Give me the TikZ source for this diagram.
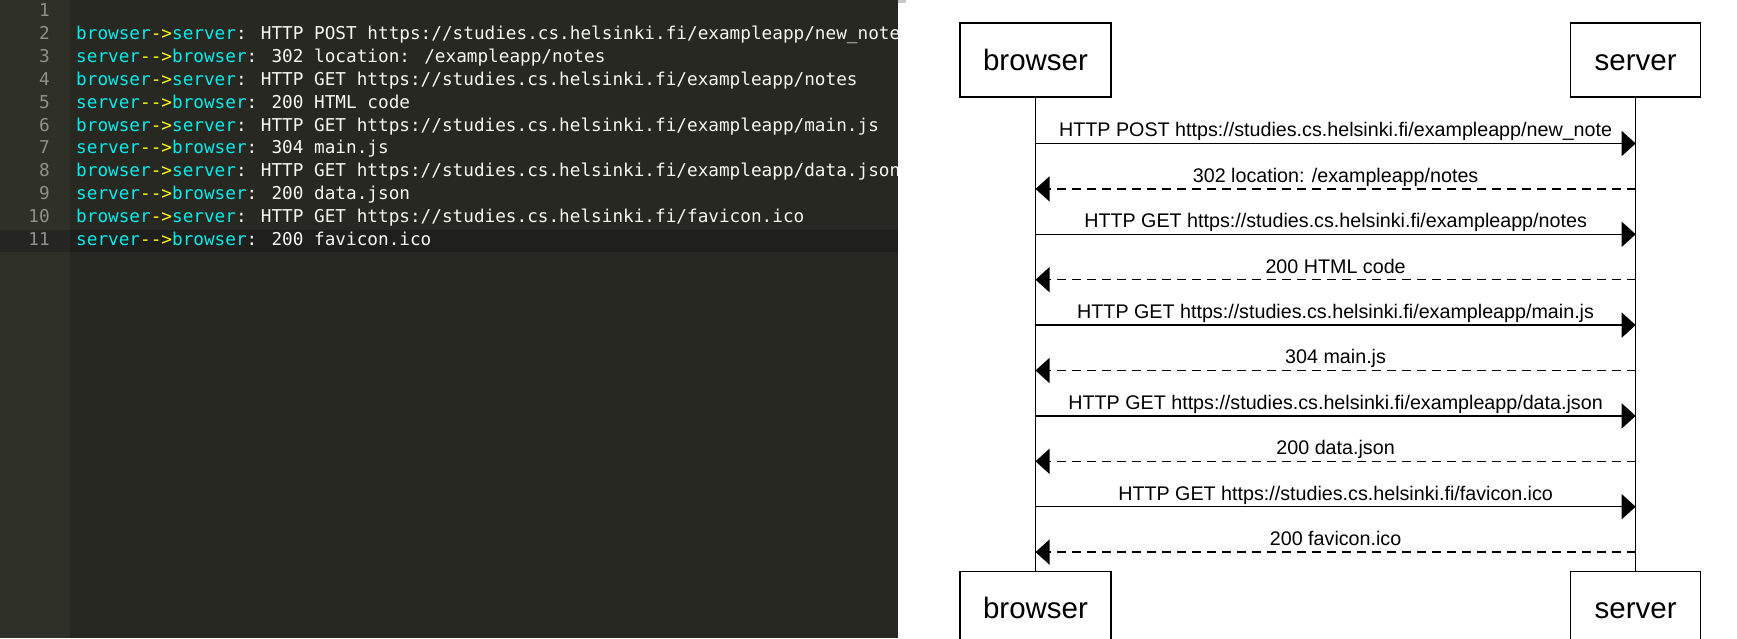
\documentclass[tikz,border=0pt]{standalone}
\usepackage{fontspec}
\usetikzlibrary{arrows.meta}
\newfontfamily\codefont{DejaVu Sans Mono}
\newfontfamily\diagfont{Liberation Sans}
\definecolor{editorbg}{RGB}{39,40,34}
\definecolor{gutterbg}{RGB}{47,49,41}
\definecolor{curline}{RGB}{31,32,29}
\definecolor{curgutter}{RGB}{37,38,34}
\definecolor{lnumcol}{RGB}{143,144,138}
\definecolor{kwcyan}{RGB}{0,235,235}
\definecolor{opyellow}{RGB}{255,255,0}
\definecolor{plaintxt}{RGB}{248,248,242}
\newcommand{\seqline}[4]{\textcolor{kwcyan}{#1}\textcolor{opyellow}{#2}\textcolor{kwcyan}{#3}\textcolor{plaintxt}{: #4}}

\begin{document}
\begin{tikzpicture}[x=1pt,y=-1pt]
  \tikzstyle{code} = [anchor=base west, inner sep=0pt, font=\codefont\fontsize{17.7}{20}\selectfont]
  \tikzstyle{lnum} = [anchor=base east, inner sep=0pt, text=lnumcol, font=\codefont\fontsize{17.7}{20}\selectfont]
  \tikzstyle{actor} = [draw, line width=1.3pt, minimum height=74pt, text height=20pt, text depth=0pt, font=\diagfont\fontsize{29.5}{30}\selectfont]
  \tikzstyle{msg} = [midway, anchor=base, yshift=6.6pt, inner sep=0pt, font=\diagfont\fontsize{19.7}{21}\selectfont]
  \tikzstyle{call} = [line width=1.3pt, -{Triangle[length=14pt,width=25pt]}]
  \tikzstyle{reply} = [line width=1.3pt, dash pattern=on 9pt off 6pt, -{Triangle[length=14pt,width=25pt]}]
  \useasboundingbox (0,0) rectangle (1737,638);
  \fill[white] (0,0) rectangle (1737,638);

  % editor
  \fill[editorbg] (0,0) rectangle (898,638);
  \fill[gutterbg] (0,0) rectangle (70,638);
  \fill[curline] (70,230) rectangle (898,252.3);
  \fill[curgutter] (0,230) rectangle (70,252.3);
  \fill[black!22] (898,0) rectangle (906,3);

  \draw (50,16.6) node[lnum] (n1) {1};
  \draw (50,39.5) node[lnum] (n2) {2};
  \draw (50,62.3) node[lnum] (n3) {3};
  \draw (50,85.2) node[lnum] (n4) {4};
  \draw (50,108.1) node[lnum] (n5) {5};
  \draw (50,131.0) node[lnum] (n6) {6};
  \draw (50,153.8) node[lnum] (n7) {7};
  \draw (50,176.7) node[lnum] (n8) {8};
  \draw (50,199.6) node[lnum] (n9) {9};
  \draw (50,222.4) node[lnum] (n10) {10};
  \draw (50,245.3) node[lnum] (n11) {11};

  \begin{scope}
  \clip (70,0) rectangle (898,638);
  \draw (76,39.5) node[code] (c2) {\seqline{browser}{->}{server}{HTTP POST https://studies.cs.helsinki.fi/exampleapp/new\_note}};
  \draw (76,62.3) node[code] (c3) {\seqline{server}{-{}->}{browser}{302 location: /exampleapp/notes}};
  \draw (76,85.2) node[code] (c4) {\seqline{browser}{->}{server}{HTTP GET https://studies.cs.helsinki.fi/exampleapp/notes}};
  \draw (76,108.1) node[code] (c5) {\seqline{server}{-{}->}{browser}{200 HTML code}};
  \draw (76,131.0) node[code] (c6) {\seqline{browser}{->}{server}{HTTP GET https://studies.cs.helsinki.fi/exampleapp/main.js}};
  \draw (76,153.8) node[code] (c7) {\seqline{server}{-{}->}{browser}{304 main.js}};
  \draw (76,176.7) node[code] (c8) {\seqline{browser}{->}{server}{HTTP GET https://studies.cs.helsinki.fi/exampleapp/data.json}};
  \draw (76,199.6) node[code] (c9) {\seqline{server}{-{}->}{browser}{200 data.json}};
  \draw (76,222.4) node[code] (c10) {\seqline{browser}{->}{server}{HTTP GET https://studies.cs.helsinki.fi/favicon.ico}};
  \draw (76,245.3) node[code] (c11) {\seqline{server}{-{}->}{browser}{200 favicon.ico}};
  \end{scope}

  % sequence diagram
  \draw (1035.5,60) node[actor, minimum width=151pt] (bt) {browser};
  \draw (1635.7,60) node[actor, minimum width=130pt] (st) {server};
  \draw (1035.5,608.7) node[actor, minimum width=151pt] (bb) {browser};
  \draw (1635.7,608.7) node[actor, minimum width=130pt] (sb) {server};
  \draw [line width=1.3pt] (bt) -- (bb);
  \draw [line width=1.3pt] (st) -- (sb);

  \coordinate (b1) at (1035.5,143.5); \coordinate (s1) at (1635.7,143.5);
  \coordinate (b2) at (1035.5,188.9); \coordinate (s2) at (1635.7,188.9);
  \coordinate (b3) at (1035.5,234.3); \coordinate (s3) at (1635.7,234.3);
  \coordinate (b4) at (1035.5,279.7); \coordinate (s4) at (1635.7,279.7);
  \coordinate (b5) at (1035.5,325.1); \coordinate (s5) at (1635.7,325.1);
  \coordinate (b6) at (1035.5,370.5); \coordinate (s6) at (1635.7,370.5);
  \coordinate (b7) at (1035.5,415.9); \coordinate (s7) at (1635.7,415.9);
  \coordinate (b8) at (1035.5,461.3); \coordinate (s8) at (1635.7,461.3);
  \coordinate (b9) at (1035.5,506.7); \coordinate (s9) at (1635.7,506.7);
  \coordinate (b10) at (1035.5,552.1); \coordinate (s10) at (1635.7,552.1);

  \draw [call] (b1) -- node[msg] {HTTP POST https://studies.cs.helsinki.fi/exampleapp/new\_note} (s1);
  \draw [reply] (s2) -- node[msg] {302 location: /exampleapp/notes} (b2);
  \draw [call] (b3) -- node[msg] {HTTP GET https://studies.cs.helsinki.fi/exampleapp/notes} (s3);
  \draw [reply] (s4) -- node[msg] {200 HTML code} (b4);
  \draw [call] (b5) -- node[msg] {HTTP GET https://studies.cs.helsinki.fi/exampleapp/main.js} (s5);
  \draw [reply] (s6) -- node[msg] {304 main.js} (b6);
  \draw [call] (b7) -- node[msg] {HTTP GET https://studies.cs.helsinki.fi/exampleapp/data.json} (s7);
  \draw [reply] (s8) -- node[msg] {200 data.json} (b8);
  \draw [call] (b9) -- node[msg] {HTTP GET https://studies.cs.helsinki.fi/favicon.ico} (s9);
  \draw [reply] (s10) -- node[msg] {200 favicon.ico} (b10);
\end{tikzpicture}
\end{document}
